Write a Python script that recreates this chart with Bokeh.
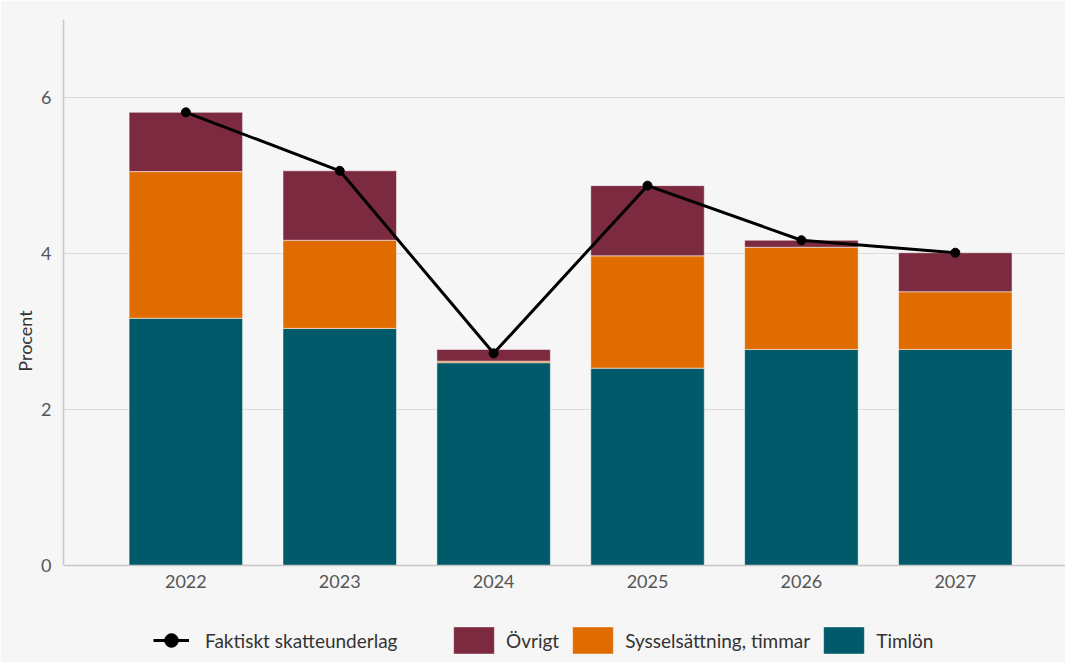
from bokeh.plotting import figure
from bokeh.models import ColumnDataSource, Range1d, FixedTicker, Legend, LegendItem, LinearAxis
from bokeh.embed import file_html
from bokeh.resources import INLINE

years = [2022, 2023, 2024, 2025, 2026, 2027]
year_labels = ["2022", "2023", "2024", "2025", "2026", "2027"]
timlon = [3.17, 3.04, 2.60, 2.53, 2.77, 2.77]
syssel = [1.88, 1.13, 0.02, 1.44, 1.31, 0.74]
ovrigt = [0.76, 0.89, 0.15, 0.90, 0.09, 0.50]
faktiskt = [5.81, 5.06, 2.72, 4.87, 4.17, 4.01]
y_ticks = [0, 2, 4, 6]

BG = "#f6f6f6"
FONT = "Lato"
C_TIM = "#005a69"
C_SYS = "#e06c00"
C_OVR = "#7b2a40"

src = ColumnDataSource(dict(year=years, timlon=timlon, syssel=syssel, ovrigt=ovrigt, faktiskt=faktiskt))

# the frame reaches down to the figure bottom so that the legend can sit inside it;
# the x axis is pinned at y = 0
p = figure(width=1065, height=662, output_backend="svg", toolbar_location=None,
           x_range=Range1d(2021.205, 2027.716), y_range=Range1d(-1.2436, 7),
           min_border_left=63, min_border_right=0, min_border_top=19, min_border_bottom=0,
           x_axis_location=None)
p.background_fill_color = BG
p.border_fill_color = BG
p.outline_line_color = None

stack = p.vbar_stack(["timlon", "syssel", "ovrigt"], x="year", width=0.7375, source=src,
                     color=[C_TIM, C_SYS, C_OVR], line_color="white", line_alpha=0.5, line_width=1)
ln = p.line("year", "faktiskt", source=src, line_color="black", line_width=3)
sc = p.scatter("year", "faktiskt", source=src, size=9, color="black")

xax = LinearAxis(fixed_location=0, ticker=FixedTicker(ticks=years),
                 major_label_overrides={y: l for y, l in zip(years, year_labels)})
p.add_layout(xax, "below")

p.xgrid.grid_line_color = None
p.ygrid.grid_line_color = "#dcdcdc"
p.ygrid.grid_line_width = 1
p.ygrid.ticker = FixedTicker(ticks=y_ticks)

p.yaxis.ticker = FixedTicker(ticks=y_ticks)
p.yaxis.bounds = (0, 7)

for ax in (xax, p.yaxis[0]):
    ax.axis_line_color = "#c8c8c8"
    ax.axis_line_width = 1.5
    ax.major_tick_line_color = None
    ax.minor_tick_line_color = None
    ax.major_label_text_font = FONT
    ax.major_label_text_color = "#555555"
    ax.major_label_text_font_size = "18px"
xax.major_label_standoff = 4
p.yaxis.major_label_standoff = 6

p.yaxis.axis_label = "Procent"
p.yaxis.axis_label_text_font = FONT
p.yaxis.axis_label_text_font_style = "normal"
p.yaxis.axis_label_text_font_size = "18px"
p.yaxis.axis_label_text_color = "#333333"
p.yaxis.axis_label_standoff = 2

LH = 34
VY = 5


def style(lg, gw, standoff, spacing):
    lg.background_fill_alpha = 0
    lg.border_line_color = None
    lg.label_text_font = FONT
    lg.label_text_font_size = "19px"
    lg.label_text_color = "#333333"
    lg.glyph_width = gw
    lg.glyph_height = LH
    lg.padding = 0
    lg.margin = 0
    lg.spacing = spacing
    lg.label_standoff = standoff


leg_a = Legend(items=[LegendItem(label="Faktiskt skatteunderlag", renderers=[ln, sc])],
               orientation="horizontal", location=(90, VY))
leg_b = Legend(items=[
    LegendItem(label="Övrigt", renderers=[stack[2]]),
    LegendItem(label="Sysselsättning, timmar", renderers=[stack[1]]),
    LegendItem(label="Timlön", renderers=[stack[0]]),
], orientation="horizontal", location=(385, VY))
style(leg_a, 36, 16, 8)
style(leg_b, 51, 7, 8)
p.add_layout(leg_a, "center")
p.add_layout(leg_b, "center")

open("out.html", "w").write(file_html(p, INLINE))
